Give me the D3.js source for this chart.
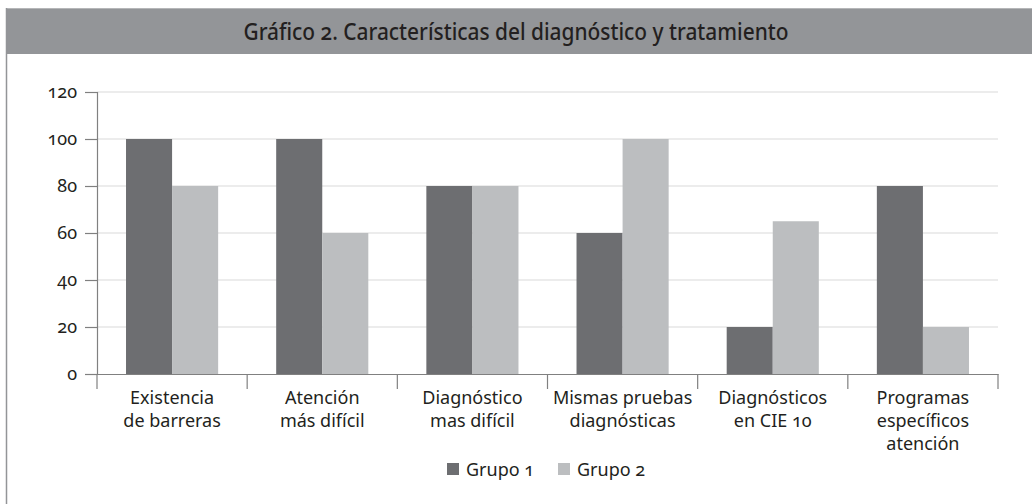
<!DOCTYPE html>
<html>
<head>
<meta charset="utf-8">
<script src="https://cdn.jsdelivr.net/npm/d3@7"></script>
<style>
  body { margin: 0; background: #fff; }
  svg text { font-family: "Noto Sans", "Open Sans", sans-serif; fill: #231f20; font-variant-numeric: oldstyle-nums; }
</style>
</head>
<body>
<div id="chart"></div>
<script>
// chart data
const title = "Gráfico 2. Características del diagnóstico y tratamiento";
const categories = [
  ["Existencia", "de barreras"],
  ["Atención", "más difícil"],
  ["Diagnóstico", "mas difícil"],
  ["Mismas pruebas", "diagnósticas"],
  ["Diagnósticos", "en CIE 10"],
  ["Programas", "específicos", "atención"]
];
const seriesNames = ["Grupo 1", "Grupo 2"];
const grupo1 = [100, 100, 80, 60, 20, 80];
const grupo2 = [80, 60, 80, 100, 65, 20];
const yTicks = [0, 20, 40, 60, 80, 100, 120];
const colors = ["#6d6e71", "#bcbec0"];

const W = 1032, H = 504;
const margin = {top: 92, right: 34, bottom: 130, left: 97};
const width = W - margin.left - margin.right;
const height = H - margin.top - margin.bottom;

const svg = d3.select("#chart").append("svg")
  .attr("width", W)
  .attr("height", H);

/** header band and left frame line */
svg.append("rect")
  .attr("x", 6).attr("y", 8)
  .attr("width", W - 6).attr("height", 46)
  .attr("fill", "#939598");
svg.append("line")
  .attr("x1", 6).attr("x2", W)
  .attr("y1", 8.5).attr("y2", 8.5)
  .attr("stroke", "#b5b6b8");
svg.append("line")
  .attr("x1", 6.5).attr("x2", 6.5)
  .attr("y1", 8).attr("y2", H)
  .attr("stroke", "#939598").attr("stroke-width", 1.5);

svg.append("text")
  .attr("x", 516).attr("y", 40)
  .attr("text-anchor", "middle")
  .attr("textLength", 545)
  .attr("lengthAdjust", "spacingAndGlyphs")
  .style("font-family", "'Noto Sans', sans-serif")
  .style("font-weight", 500)
  .style("font-size", "23px")
  .text(title);

const g = svg.append("g")
  .attr("transform", "translate(" + margin.left + "," + margin.top + ")");

/** scales */
const idx = d3.range(categories.length);
const x0 = d3.scaleBand().domain(idx).range([0, width]).padding(0);
const x1 = d3.scaleBand().domain([0, 1]).range([0, x0.bandwidth()])
  .paddingInner(0).paddingOuter(0.63);
const y = d3.scaleLinear().domain([0, 120]).range([height, 0]);

/** grid */
g.append("g")
  .selectAll("line")
  .data(yTicks.filter(d => d > 0))
  .join("line")
  .attr("x1", 0).attr("x2", width)
  .attr("y1", d => y(d)).attr("y2", d => y(d))
  .attr("stroke", "#d9d9d9").attr("stroke-width", 1.2);

/** bars */
const data = idx.map(i => [grupo1[i], grupo2[i]]);
g.append("g")
  .selectAll("g")
  .data(data)
  .join("g")
  .attr("transform", (d, i) => "translate(" + x0(i) + ",0)")
  .selectAll("rect")
  .data(d => d)
  .join("rect")
  .attr("x", (d, j) => x1(j))
  .attr("width", x1.bandwidth())
  .attr("y", d => y(d))
  .attr("height", d => height - y(d))
  .attr("fill", (d, j) => colors[j]);

/** y axis */
const yAxis = g.append("g")
  .call(d3.axisLeft(y).tickValues(yTicks).tickSize(12).tickPadding(8));
yAxis.selectAll("text").style("font-size", "18px");

/** x axis, ticks at band boundaries */
const xAxis = g.append("g")
  .attr("transform", "translate(0," + height + ")")
  .call(d3.axisBottom(x0).tickSize(0).tickFormat(""));
xAxis.selectAll(".tick").remove();
xAxis.selectAll("line.sep")
  .data(d3.range(categories.length + 1))
  .join("line")
  .attr("class", "sep")
  .attr("x1", i => i * x0.step()).attr("x2", i => i * x0.step())
  .attr("y1", 0).attr("y2", 15);
g.selectAll(".domain, line.sep, .tick line").attr("stroke", "#808080").attr("stroke-width", 1.2);

const labels = g.append("g")
  .attr("transform", "translate(0," + height + ")")
  .selectAll("text")
  .data(categories)
  .join("text")
  .attr("x", (d, i) => x0(i) + x0.bandwidth() / 2)
  .attr("y", 30)
  .attr("text-anchor", "middle")
  .style("font-size", "18px");
labels.selectAll("tspan")
  .data(d => d)
  .join("tspan")
  .attr("x", function() { return d3.select(this.parentNode).attr("x"); })
  .attr("dy", (d, k) => k === 0 ? 0 : 23)
  .text(d => d);

/** legend */
const legend = svg.append("g").attr("transform", "translate(447,463)");
const item = legend.selectAll("g")
  .data(seriesNames)
  .join("g")
  .attr("transform", (d, i) => "translate(" + (i * 111) + ",0)");
item.append("rect")
  .attr("width", 12).attr("height", 12)
  .attr("fill", (d, i) => colors[i]);
item.append("text")
  .attr("x", 19).attr("y", 12.5)
  .style("font-size", "18px")
  .text(d => d);
</script>
</body>
</html>
